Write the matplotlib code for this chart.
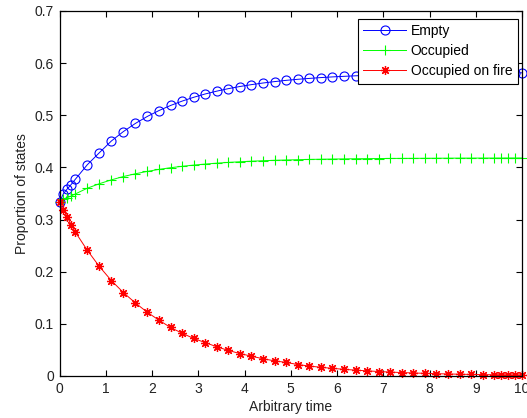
import matplotlib
matplotlib.use("Agg")
import matplotlib.pyplot as plt

plt.rcParams['font.family'] = ['Liberation Sans', 'DejaVu Sans']
plt.rcParams['font.size'] = 10

# solver output times
t = [0, 0.08, 0.17, 0.25, 0.34, 0.60, 0.86, 1.12, 1.38, 1.64, 1.90, 2.15, 2.40,
     2.65, 2.90, 3.15, 3.40, 3.65, 3.90, 4.15, 4.40, 4.65, 4.90, 5.15, 5.40,
     5.65, 5.90, 6.15, 6.40, 6.65, 6.90, 7.15, 7.40, 7.65, 7.90, 8.15, 8.40,
     8.65, 8.90, 9.15, 9.40, 9.55, 9.70, 9.85, 10.0]

empty = [0.333, 0.349, 0.359, 0.367, 0.377, 0.405, 0.428, 0.4505, 0.4686,
         0.4842, 0.4977, 0.5089, 0.5186, 0.527, 0.5343, 0.5407, 0.5461,
         0.5509, 0.5550, 0.5586, 0.5617, 0.5644, 0.5668, 0.5688, 0.5705,
         0.5721, 0.5734, 0.5745, 0.5755, 0.5764, 0.5771, 0.5778, 0.5783,
         0.5788, 0.5792, 0.5796, 0.5799, 0.5802, 0.5804, 0.5807, 0.5808,
         0.5809, 0.5810, 0.5811, 0.5812]

occupied = [0.333, 0.339, 0.342, 0.345, 0.349, 0.360, 0.3686, 0.376, 0.3824,
            0.3877, 0.3923, 0.3961, 0.3993, 0.402, 0.4043, 0.4063, 0.408,
            0.4095, 0.4107, 0.4118, 0.4127, 0.4135, 0.4141, 0.4147, 0.4152,
            0.4156, 0.4159, 0.4162, 0.4165, 0.4167, 0.4169, 0.4171, 0.4172,
            0.4173, 0.4174, 0.4175, 0.4176, 0.4177, 0.4177, 0.4178, 0.4178,
            0.4178, 0.4179, 0.4179, 0.4179]

on_fire = [0.333, 0.319, 0.305, 0.290, 0.276, 0.241, 0.210, 0.183, 0.160,
           0.140, 0.122, 0.107, 0.093, 0.082, 0.072, 0.064, 0.056, 0.049,
           0.043, 0.038, 0.033, 0.029, 0.026, 0.022, 0.019, 0.0167, 0.0146,
           0.0128, 0.0112, 0.0098, 0.0086, 0.0075, 0.0066, 0.0058, 0.0051,
           0.0044, 0.0039, 0.0034, 0.0030, 0.0026, 0.0023, 0.0021, 0.0019,
           0.0018, 0.0017]

xticks = [0, 1, 2, 3, 4, 5, 6, 7, 8, 9, 10]
yticks = [0, 0.1, 0.2, 0.3, 0.4, 0.5, 0.6, 0.7]
ytick_labels = ['0', '0.1', '0.2', '0.3', '0.4', '0.5', '0.6', '0.7']

fig = plt.figure(figsize=(5.27, 4.18), dpi=100)
ax = fig.add_axes([0.113, 0.1005, 0.8775, 0.8735])

ax.plot(t, empty, color='b', marker='o', markersize=6.5, markerfacecolor='none',
        markeredgewidth=0.8, linewidth=0.7, label='Empty', clip_on=False)
ax.plot(t, occupied, color='#00ff00', marker='+', markersize=7,
        markeredgewidth=0.8, linewidth=0.7, label='Occupied', clip_on=False)
ax.plot(t, on_fire, color='r', marker=(8, 2, 0), markersize=6.5,
        markeredgewidth=0.9, linewidth=0.7, label='Occupied on fire', clip_on=False)

ax.set_xlim(0, 10)
ax.set_ylim(0, 0.7)
ax.set_xticks(xticks)
ax.set_yticks(yticks)
ax.set_yticklabels(ytick_labels)
ax.tick_params(direction='in', length=4, width=0.8, top=True, right=True, pad=4,
               labelcolor='#222222')
for s in ax.spines.values():
    s.set_linewidth(0.9)

ax.set_xlabel('Arbitrary time', labelpad=3, color='#222222')
ax.set_ylabel('Proportion of states', labelpad=4, color='#222222')

leg = ax.legend(loc='upper right', bbox_to_anchor=(0.9907, 0.979), borderaxespad=0,
                fancybox=False, framealpha=1, edgecolor='black', handlelength=3.1,
                handletextpad=0.3, labelspacing=0.44, borderpad=0.4)
leg.get_frame().set_linewidth(0.8)

fig.savefig('out.png', dpi=100)
